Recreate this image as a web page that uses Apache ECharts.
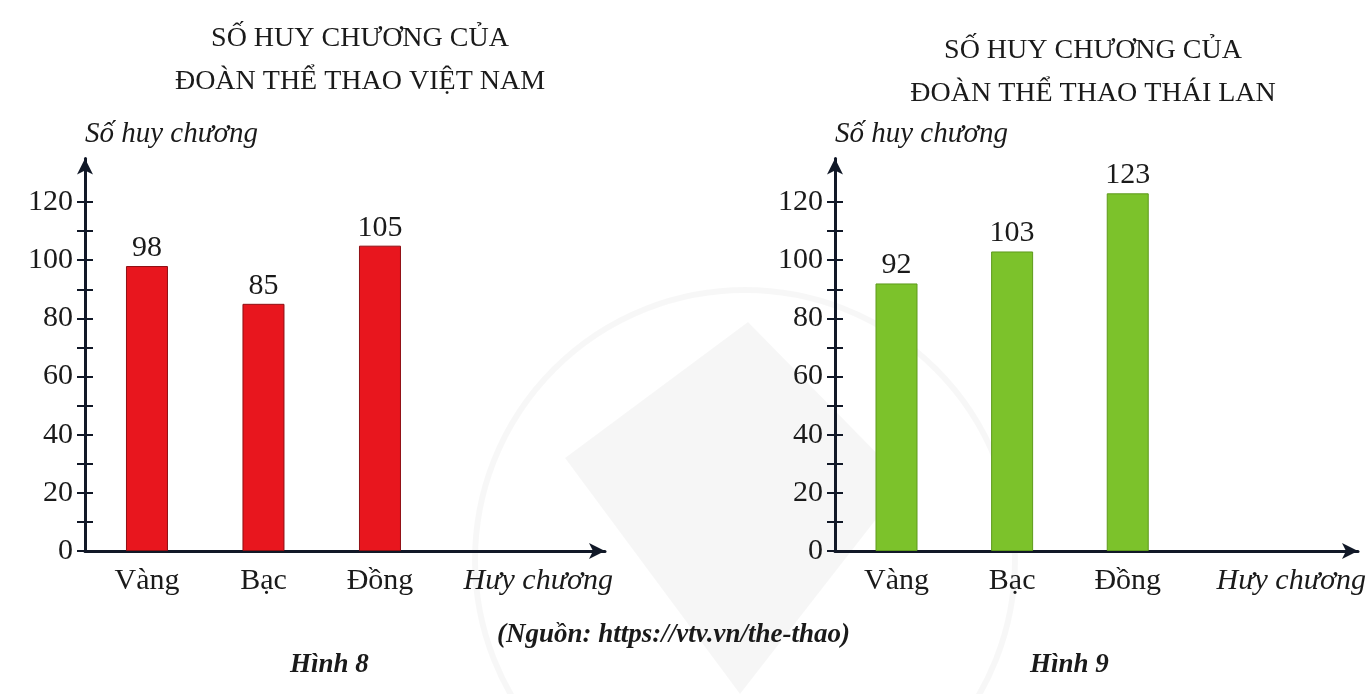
<!DOCTYPE html>
<html>
<head>
<meta charset="utf-8">
<script src="https://cdn.jsdelivr.net/npm/echarts@6/dist/echarts.min.js"></script>
<style>
  html, body { margin: 0; padding: 0; background: #fff; }
  #chart { width: 1369px; height: 694px; }
</style>
</head>
<body>
<div id="chart"></div>
<script>
// dữ liệu
const categories = ['Vàng', 'Bạc', 'Đồng']
const vietNamValues = [98, 85, 105]
const thaiLanValues = [92, 103, 123]
const yLabelValues = [0, 20, 40, 60, 80, 100, 120]
const yTickValues = [0, 10, 20, 30, 40, 50, 60, 70, 80, 90, 100, 110, 120]

const serif = "'Liberation Serif', 'Times New Roman', serif"
const ink = '#1a1a1a'
const axisColor = '#111827'

const chart = echarts.init(document.getElementById('chart'))

// khung trục cho mỗi biểu đồ
const panels = [
  { left: 85, width: 520, values: vietNamValues, color: '#e8161e', border: '#8f0f14' },
  { left: 835, width: 527, values: thaiLanValues, color: '#7cc22b', border: '#5e9a1c' }
]
const unit = 116.5
const xMin = -0.532
const yMax = 135

const grids = []
const xAxes = []
const yAxes = []
const series = []

panels.forEach((p, k) => {
  grids.push({ left: p.left, width: p.width, top: 551 - yMax * 2.908, bottom: 143 })
  xAxes.push({
    type: 'value',
    gridIndex: k,
    min: xMin,
    max: xMin + p.width / unit,
    name: 'Hưy chương',
    nameLocation: 'end',
    nameGap: 8,
    nameTextStyle: {
      fontFamily: serif, fontStyle: 'italic', fontSize: 30, color: ink,
      align: 'right', verticalAlign: 'top', padding: [15, 0, 0, 0]
    },
    axisLine: {
      show: true,
      onZero: false,
      symbol: ['none', 'arrow'],
      symbolSize: [12, 16],
      lineStyle: { color: axisColor, width: 3 }
    },
    axisTick: { show: false },
    splitLine: { show: false },
    axisLabel: {
      customValues: categories.map((c, i) => i),
      formatter: v => categories[v],
      margin: 15,
      fontFamily: serif, fontSize: 30, color: ink
    }
  })
  // trục chính
  yAxes.push({
    type: 'value',
    gridIndex: k,
    min: 0,
    max: yMax,
    name: 'Số huy chương',
    nameLocation: 'end',
    nameGap: 24,
    nameTextStyle: {
      fontFamily: serif, fontStyle: 'italic', fontSize: 29, color: ink,
      align: 'left', verticalAlign: 'middle'
    },
    axisLine: {
      show: true,
      onZero: false,
      symbol: ['none', 'arrow'],
      symbolSize: [12, 16],
      lineStyle: { color: axisColor, width: 3 }
    },
    axisTick: {
      show: true, length: 8, customValues: yTickValues,
      lineStyle: { color: axisColor, width: 2 }
    },
    axisLabel: {
      customValues: yLabelValues,
      margin: 12,
      fontFamily: serif, fontSize: 30, color: ink
    },
    splitLine: { show: false }
  })
  // vạch chia phía trong trục
  yAxes.push({
    type: 'value',
    gridIndex: k,
    min: 0,
    max: yMax,
    position: 'left',
    axisLine: { show: false, onZero: false },
    axisTick: {
      show: true, inside: true, length: 8, customValues: yTickValues,
      lineStyle: { color: axisColor, width: 2 }
    },
    axisLabel: { show: false },
    splitLine: { show: false }
  })
  series.push({
    type: 'bar',
    xAxisIndex: k,
    yAxisIndex: k * 2,
    barWidth: 42,
    z: 3,
    data: p.values.map((v, i) => [i, v]),
    itemStyle: { color: p.color, borderColor: p.border, borderWidth: 1 },
    label: {
      show: true,
      position: 'top',
      distance: 3,
      formatter: params => params.value[1],
      fontFamily: serif, fontSize: 30, color: ink
    },
    silent: true
  })
})

const option = {
  backgroundColor: '#ffffff',
  animation: false,
  title: [
    {
      text: 'SỐ HUY CHƯƠNG CỦA\nĐOÀN THỂ THAO VIỆT NAM',
      left: 355, top: 12, textAlign: 'center',
      textStyle: { fontFamily: serif, fontWeight: 'normal', fontSize: 28, color: ink, lineHeight: 43 }
    },
    {
      text: 'SỐ HUY CHƯƠNG CỦA\nĐOÀN THỂ THAO THÁI LAN',
      left: 1088, top: 24, textAlign: 'center',
      textStyle: { fontFamily: serif, fontWeight: 'normal', fontSize: 28, color: ink, lineHeight: 43 }
    }
  ],
  grid: grids,
  xAxis: xAxes,
  yAxis: yAxes,
  series: series,
  graphic: [
    // hình mờ phía sau
    {
      type: 'polygon', z: -10, silent: true,
      shape: { points: [[748, 322], [565, 458], [740, 694], [905, 482]] },
      style: { fill: 'rgba(0,0,0,0.035)' }
    },
    {
      type: 'circle', z: -10, silent: true,
      shape: { cx: 745, cy: 560, r: 270 },
      style: { fill: 'none', stroke: 'rgba(0,0,0,0.03)', lineWidth: 6 }
    },
    {
      type: 'text', left: 497, top: 622,
      style: { text: '(Nguồn: https://vtv.vn/the-thao)', font: 'italic bold 27px ' + serif, fill: ink }
    },
    {
      type: 'text', left: 290, top: 652,
      style: { text: 'Hình 8', font: 'italic bold 27px ' + serif, fill: ink }
    },
    {
      type: 'text', left: 1030, top: 652,
      style: { text: 'Hình 9', font: 'italic bold 27px ' + serif, fill: ink }
    }
  ]
}

chart.setOption(option)
</script>
</body>
</html>
